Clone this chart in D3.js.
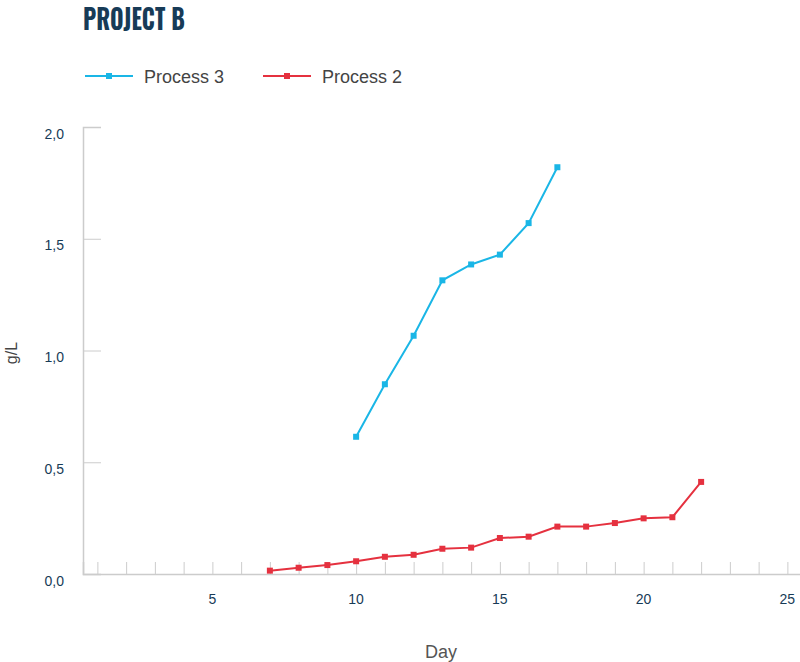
<!DOCTYPE html>
<html>
<head>
<meta charset="utf-8">
<script src="https://cdn.jsdelivr.net/npm/d3@7"></script>
<style>
  html, body { margin: 0; padding: 0; background: #fff; }
  svg { display: block; }
</style>
</head>
<body>
<svg id="chart" width="800" height="662"></svg>
<script>
const title = "PROJECT B";
const seriesNames = ["Process 3", "Process 2"];
const seriesColors = ["#1ab6e6", "#e5313f"];
const days3 = [10, 11, 12, 13, 14, 15, 16, 17];
const values3 = [0.614, 0.849, 1.066, 1.314, 1.385, 1.429, 1.570, 1.820];
const days2 = [7, 8, 9, 10, 11, 12, 13, 14, 15, 16, 17, 18, 19, 20, 21, 22];
const values2 = [0.015, 0.028, 0.040, 0.057, 0.077, 0.086, 0.113, 0.118, 0.161, 0.167, 0.212, 0.212, 0.228, 0.249, 0.254, 0.412];
const xTickValues = [1,2,3,4,5,6,7,8,9,10,11,12,13,14,15,16,17,18,19,20,21,22,23,24,25];
const xLabelValues = [5, 10, 15, 20, 25];
const yTickValues = [0, 0.5, 1.0, 1.5, 2.0];
const xTitle = "Day";
const yTitle = "g/L";

const svg = d3.select("#chart");
const plotLeft = 83, plotTop = 127, plotBottom = 574;
const x = d3.scaleLinear().domain([0.5, 25.5]).range([plotLeft, plotLeft + 25 * 28.75]);
const y = d3.scaleLinear().domain([0, 2]).range([plotBottom, plotTop]);
const fmt = v => d3.format(".1f")(v).replace(".", ",");
const font = "'Liberation Sans', Arial, sans-serif";

// Title
svg.append("text").attr("transform", "translate(83,30) scale(0.8,1)")
  .attr("font-family", "Oswald, 'Liberation Sans Narrow', 'DejaVu Sans Condensed', sans-serif")
  .attr("font-weight", "bold").attr("font-size", 29).attr("fill", "#173b57")
  .text(title);

// Legend
const legendX = [85, 263];
seriesNames.forEach((name, i) => {
  const g = svg.append("g").attr("transform", `translate(${legendX[i]},76)`);
  g.append("line").attr("x1", 0).attr("x2", 48).attr("y1", 0).attr("y2", 0)
    .attr("stroke", seriesColors[i]).attr("stroke-width", 2);
  g.append("rect").attr("x", 21).attr("y", -3).attr("width", 6).attr("height", 6)
    .attr("fill", seriesColors[i]);
  g.append("text").attr("x", 59).attr("y", 6.5)
    .attr("font-family", font)
    .attr("font-size", 18).attr("fill", "#444").text(name);
});

// Y axis
const yAxis = d3.axisRight(y).tickValues(yTickValues).tickSize(18).tickFormat("");
const yg = svg.append("g").attr("transform", `translate(${plotLeft},0)`).call(yAxis);
yg.select(".domain").attr("stroke", "#ccc").attr("stroke-width", 1.5);
yg.selectAll(".tick line").attr("stroke", "#ccc");
svg.append("g").selectAll("text").data(yTickValues).join("text")
  .attr("x", 64).attr("y", d => y(d) + 11.5).attr("text-anchor", "end")
  .attr("font-family", font)
  .attr("font-size", 14).attr("fill", "#173b57").text(fmt);

// X axis
const xAxis = d3.axisTop(x).tickValues(xTickValues).tickSize(12).tickFormat("");
const xg = svg.append("g").attr("transform", `translate(0,${plotBottom})`).call(xAxis);
xg.select(".domain").attr("stroke", "#ccc").attr("stroke-width", 1.5);
xg.selectAll(".tick line").attr("stroke", "#ccc");
svg.append("g").selectAll("text").data(xLabelValues).join("text")
  .attr("x", d => x(d)).attr("y", 603.5).attr("text-anchor", "middle")
  .attr("font-family", font)
  .attr("font-size", 14).attr("fill", "#173b57").text(d => d);

// Axis titles
svg.append("text").attr("x", 441).attr("y", 658).attr("text-anchor", "middle")
  .attr("font-family", font)
  .attr("font-size", 18).attr("fill", "#555").text(xTitle);
svg.append("text").attr("transform", "translate(17,353) rotate(-90)").attr("text-anchor", "middle")
  .attr("font-family", font)
  .attr("font-size", 16).attr("fill", "#444").text(yTitle);

// Series
const line = d3.line().x(d => x(d[0])).y(d => y(d[1]));
const series = [
  d3.zip(days3, values3),
  d3.zip(days2, values2)
];
series.forEach((data, i) => {
  svg.append("path").datum(data).attr("d", line)
    .attr("fill", "none").attr("stroke", seriesColors[i]).attr("stroke-width", 2);
  svg.append("g").selectAll("rect").data(data).join("rect")
    .attr("x", d => x(d[0]) - 3).attr("y", d => y(d[1]) - 3)
    .attr("width", 6).attr("height", 6).attr("fill", seriesColors[i]);
});
</script>
</body>
</html>
